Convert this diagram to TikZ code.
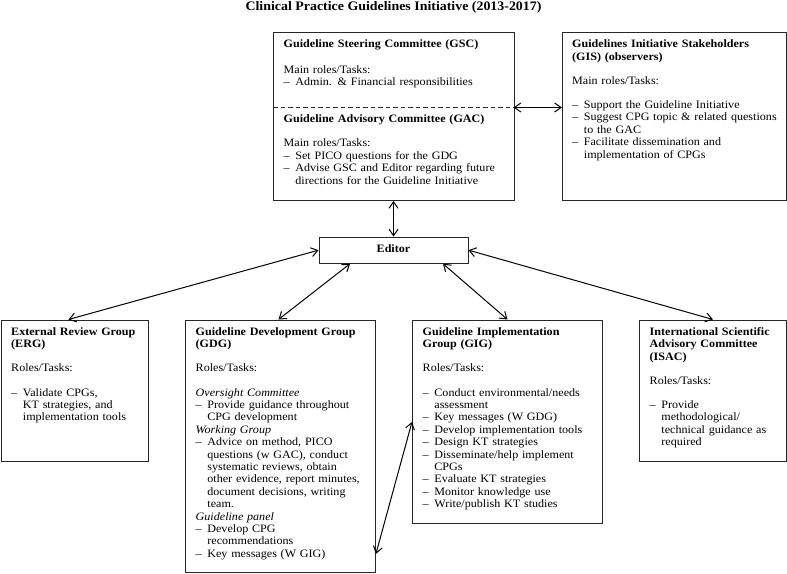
\documentclass[tikz,border=0pt]{standalone}
\usepackage{fontspec}
\setmainfont{Liberation Serif}[FakeStretch=1.07]
\usetikzlibrary{arrows.meta}
\newcommand{\dd}{\makebox[11.7pt][l]{–}}
\newcommand{\ii}{\hspace*{11.7pt}}
\newcommand{\bl}{\\[11.8pt]}
\tikzset{
  boxframe/.style={draw=black!85, line width=0.9pt, inner sep=0pt},
  boxtext/.style={anchor=north west, inner sep=0pt, align=left, text width=230pt,
    font=\fontsize{11.3}{12.4}\selectfont},
  link/.style={draw=black, line width=1pt,
    arrows={Straight Barb[length=6.5pt,width=9pt]-Straight Barb[length=6.5pt,width=9pt]}}
}
\begin{document}
\begin{tikzpicture}[x=1pt,y=-1pt]
\useasboundingbox (0,0) rectangle (787,573);

% title
\node[anchor=base, inner sep=0pt, font=\fontsize{13}{14}\selectfont\bfseries] (title) at (393.5,10.5)
  {Clinical Practice Guidelines Initiative (2013-2017)};

% frames
\node[boxframe, anchor=north west, minimum width=240.5pt, minimum height=168pt] (gsc) at (273,32) {};
\node[boxframe, anchor=north west, minimum width=224pt, minimum height=168pt] (gis) at (562,32) {};
\node[boxframe, minimum width=149pt, minimum height=26.3pt, text height=7pt, text depth=3pt,
  font=\fontsize{11.3}{12.4}\selectfont\bfseries] (editor) at (393.5,250.15) {Editor};
\node[boxframe, anchor=north west, minimum width=147pt, minimum height=141.5pt] (erg) at (1,319.5) {};
\node[boxframe, anchor=north west, minimum width=190pt, minimum height=252.5pt] (gdg) at (185,319.5) {};
\node[boxframe, anchor=north west, minimum width=190pt, minimum height=203.5pt] (gig) at (412,319.5) {};
\node[boxframe, anchor=north west, minimum width=147pt, minimum height=141.5pt] (isac) at (639,319.5) {};

% dashed separator GSC / GAC
\coordinate (dashL) at (273,107.5);
\coordinate (dashR) at (513.5,107.5);
\draw[black!85, line width=1.1pt, dash pattern=on 4.5pt off 3pt] (dashL) -- (dashR);

% texts
\node[boxtext] (gsctext) at (283.5,39.5) {%
\rule{0pt}{8pt}\textbf{Guideline Steering Committee (GSC)}\\[13pt]
Main roles/Tasks:\\
\dd Admin. \& Financial responsibilities};

\node[boxtext] (gactext) at (283.5,114.5) {%
\rule{0pt}{8pt}\textbf{Guideline Advisory Committee (GAC)}\bl
Main roles/Tasks:\\
\dd Set PICO questions for the GDG\\
\dd Advise GSC and Editor regarding future\\
\ii directions for the Guideline Initiative};

\node[boxtext] (gistext) at (572,39.5) {%
\rule{0pt}{8pt}\textbf{Guidelines Initiative Stakeholders}\\
\textbf{(GIS) (observers)}\bl
Main roles/Tasks:\bl
\dd Support the Guideline Initiative\\
\dd Suggest CPG topic \& related questions\\
\ii to the GAC\\
\dd Facilitate dissemination and\\
\ii implementation of CPGs};

\node[boxtext] (ergtext) at (11,327) {%
\rule{0pt}{8pt}\textbf{External Review Group}\\
\textbf{(ERG)}\bl
Roles/Tasks:\bl
\dd Validate CPGs,\\
\ii KT strategies, and\\
\ii implementation tools};

\node[boxtext] (gdgtext) at (195.5,327) {%
\rule{0pt}{8pt}\textbf{Guideline Development Group}\\
\textbf{(GDG)}\bl
Roles/Tasks:\bl
\textit{Oversight Committee}\\
\dd Provide guidance throughout\\
\ii CPG development\\
\textit{Working Group}\\
\dd Advice on method, PICO\\
\ii questions (w GAC), conduct\\
\ii systematic reviews, obtain\\
\ii other evidence, report minutes,\\
\ii document decisions, writing\\
\ii team.\\
\textit{Guideline panel}\\
\dd Develop CPG\\
\ii recommendations\\
\dd Key messages (W GIG)};

\node[boxtext] (gigtext) at (422.5,327) {%
\rule{0pt}{8pt}\textbf{Guideline Implementation}\\
\textbf{Group (GIG)}\bl
Roles/Tasks:\bl
\dd Conduct environmental/needs\\
\ii assessment\\
\dd Key messages (W GDG)\\
\dd Develop implementation tools\\
\dd Design KT strategies\\
\dd Disseminate/help implement\\
\ii CPGs\\
\dd Evaluate KT strategies\\
\dd Monitor knowledge use\\
\dd Write/publish KT studies};

\node[boxtext] (isactext) at (649.5,327) {%
\rule{0pt}{8pt}\textbf{International Scientific}\\
\textbf{Advisory Committee}\\
\textbf{(ISAC)}\bl
Roles/Tasks:\bl
\dd Provide\\
\ii methodological/\\
\ii technical guidance as\\
\ii required};

% connectors
\draw[link] (dashR) -- (gis.west |- dashR);
\draw[link] (gsc.south -| editor.north) -- (editor.north);
\draw[link] (editor.west) -- ([xshift=-6.5pt]erg.north);
\draw[link] ([xshift=-43.5pt]editor.south) -- ([xshift=-2pt]gdg.north);
\draw[link] ([xshift=49.5pt]editor.south) -- (gig.north);
\draw[link] (editor.east) -- (isac.north);
\draw[link] ([yshift=19pt]gdg.south east) -- ([yshift=102pt]gig.south west);
\end{tikzpicture}
\end{document}
